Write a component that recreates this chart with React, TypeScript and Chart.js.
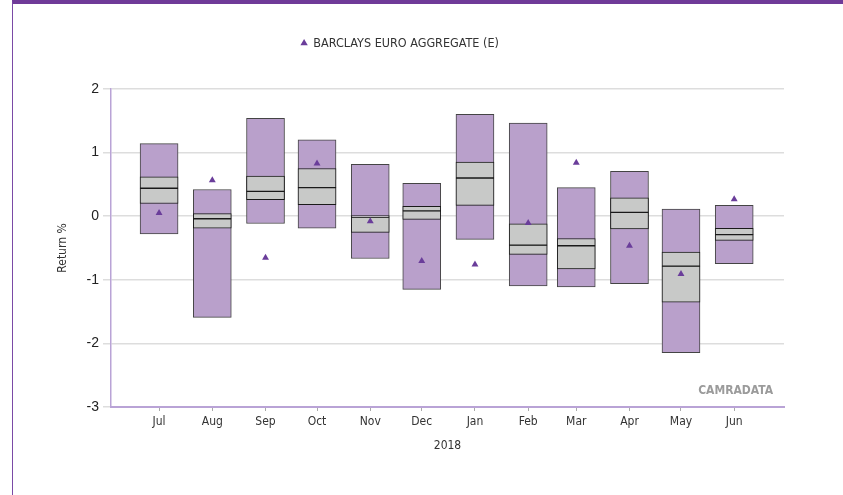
import React, { useEffect, useRef } from 'react';
import { Chart, registerables } from 'chart.js';

Chart.register(...registerables);

// ---- data ----
const months = ['Jul', 'Aug', 'Sep', 'Oct', 'Nov', 'Dec', 'Jan', 'Feb', 'Mar', 'Apr', 'May', 'Jun'];
const monthDates = [
  '2018-07-01', '2018-08-01', '2018-09-01', '2018-10-01', '2018-11-01', '2018-12-01',
  '2019-01-01', '2019-02-01', '2019-03-01', '2019-04-01', '2019-05-01', '2019-06-01',
];
const maxValues = [1.14, 0.42, 1.54, 1.2, 0.815, 0.515, 1.6, 1.465, 0.45, 0.705, 0.11, 0.17];
const q3Values = [0.62, 0.04, 0.63, 0.75, 0.01, 0.157, 0.85, -0.12, -0.35, 0.29, -0.565, -0.19];
const medianValues = [0.44, -0.04, 0.39, 0.45, -0.015, 0.083, 0.6, -0.455, -0.465, 0.06, -0.785, -0.29];
const q1Values = [0.2, -0.19, 0.26, 0.18, -0.255, -0.05, 0.17, -0.6, -0.83, -0.2, -1.35, -0.38];
const minValues = [-0.28, -1.59, -0.115, -0.19, -0.665, -1.15, -0.365, -1.095, -1.11, -1.06, -2.145, -0.745];
const benchmarkValues = [0.05, 0.565, -0.655, 0.83, -0.08, -0.705, -0.76, -0.105, 0.84, -0.465, -0.91, 0.265];
const benchmarkLabel = 'BARCLAYS EURO AGGREGATE (E)';
const yearLabel = '2018';
const yAxisLabel = 'Return %';
const yTicks = [-3, -2, -1, 0, 1, 2];
const watermarkText = 'CAMRADATA';

const DAY = 86400000;
const condensed = "'DejaVu Sans Condensed', 'Liberation Sans Narrow', 'Roboto Condensed', Roboto, sans-serif";

export default function App() {
  const ref = useRef<HTMLCanvasElement>(null);

  useEffect(() => {
    if (!ref.current) return;
    const t0 = Date.parse(monthDates[0] + 'T00:00:00Z');
    const xs = monthDates.map((d) => Math.round((Date.parse(d + 'T00:00:00Z') - t0) / DAY));

    const barDs = (lo: number[], hi: number[], bg: string, border: string, label: string) => ({
      type: 'bar' as const,
      label,
      data: xs.map((x, i) => ({ x, y: [lo[i], hi[i]] })),
      backgroundColor: bg,
      borderColor: border,
      borderWidth: 1,
      borderSkipped: false,
      barThickness: 38,
      grouped: false,
    });

    const legendFit = {
      id: 'legendFit',
      beforeInit(chart: any) {
        const orig = chart.legend.fit;
        chart.legend.fit = function () {
          orig.call(this);
          this.height = 89;
        };
      },
      afterLayout(chart: any) {
        const lg = chart.legend;
        if (lg) {
          lg.left -= 18;
          lg.right -= 18;
        }
      },
    };

    const watermark = {
      id: 'watermark',
      afterDraw(chart: any) {
        const { ctx, chartArea } = chart;
        ctx.save();
        ctx.font = `bold 12px ${condensed}`;
        ctx.fillStyle = '#9b9b9b';
        ctx.textAlign = 'right';
        ctx.textBaseline = 'middle';
        ctx.fillText(watermarkText, chartArea.right - 11, chartArea.bottom - 16);
        ctx.restore();
      },
    };

    const chart = new Chart(ref.current, {
      type: 'bar',
      data: {
        datasets: [
          {
            type: 'line' as const,
            label: benchmarkLabel,
            data: xs.map((x, i) => ({ x, y: benchmarkValues[i] })),
            showLine: false,
            pointStyle: 'triangle',
            pointRadius: 4,
            pointBackgroundColor: '#6a3d9a',
            pointBorderColor: '#6a3d9a',
            pointBorderWidth: 0,
            backgroundColor: '#6a3d9a',
            borderColor: '#6a3d9a',
          } as any,
          barDs(medianValues, q3Values, '#c8c9c8', '#1a1a1a', 'upper'),
          barDs(q1Values, medianValues, '#c8c9c8', '#1a1a1a', 'lower'),
          barDs(minValues, maxValues, '#b9a0cb', '#444444', 'range'),
        ],
      },
      options: {
        animation: false,
        responsive: false,
        devicePixelRatio: 1,
        layout: { padding: { top: 0, left: 52, right: 59, bottom: 38 } },
        plugins: {
          tooltip: { enabled: false },
          legend: {
            display: true,
            position: 'top',
            labels: {
              filter: (item: any) => item.datasetIndex === 0,
              usePointStyle: true,
              boxWidth: 6,
              boxHeight: 6,
              padding: 37,
              color: '#333',
              font: { family: condensed, size: 12.5 },
            },
          },
        },
        scales: {
          x: {
            type: 'linear',
            min: -28,
            max: 364,
            offset: false,
            afterBuildTicks: (scale: any) => {
              scale.ticks = xs.map((v) => ({ value: v }));
            },
            afterFit: (scale: any) => {
              scale.height = 50;
            },
            ticks: {
              autoSkip: false,
              maxRotation: 0,
              padding: 4,
              color: '#333',
              font: { family: condensed, size: 12 },
              callback: (v: any) => {
                const i = xs.indexOf(Number(v));
                return i >= 0 ? months[i] : '';
              },
            },
            grid: { offset: false, drawOnChartArea: false, drawTicks: true, tickLength: 4, color: '#aaaaaa' },
            border: { display: true, color: '#b9a3d6', width: 2 },
            title: {
              display: true,
              text: yearLabel,
              color: '#333',
              font: { family: condensed, size: 12 },
              padding: { top: 4, bottom: 4 },
            },
          },
          y: {
            type: 'linear',
            min: -3,
            max: 2,
            afterBuildTicks: (scale: any) => {
              scale.ticks = yTicks.map((v) => ({ value: v }));
            },
            afterFit: (scale: any) => {
              scale.width = 59;
            },
            ticks: {
              padding: 4,
              color: '#222',
              font: { family: "'Liberation Sans', Arial, sans-serif", size: 14 },
            },
            grid: { color: '#dddddd', lineWidth: 1.5, tickLength: 8 },
            border: { display: true, color: '#b9a3d6', width: 1.5 },
            title: {
              display: true,
              text: yAxisLabel,
              color: '#333',
              font: { family: condensed, size: 12 },
              padding: { top: 4, bottom: 4 },
            },
          },
        },
      } as any,
      plugins: [legendFit, watermark],
    });
    return () => chart.destroy();
  }, []);

  return (
    <div style={{ position: 'fixed', left: 0, top: 0, width: 843, height: 495, background: '#fff', overflow: 'hidden' }}>
      <div
        style={{
          position: 'absolute',
          left: 12,
          top: 0,
          right: 0,
          bottom: 0,
          borderTop: '4px solid #6f3a98',
          borderLeft: '1px solid #7a4aa6',
        }}
      />
      <canvas ref={ref} width={843} height={495} style={{ position: 'absolute', left: 0, top: 0, display: 'block' }} />
    </div>
  );
}
